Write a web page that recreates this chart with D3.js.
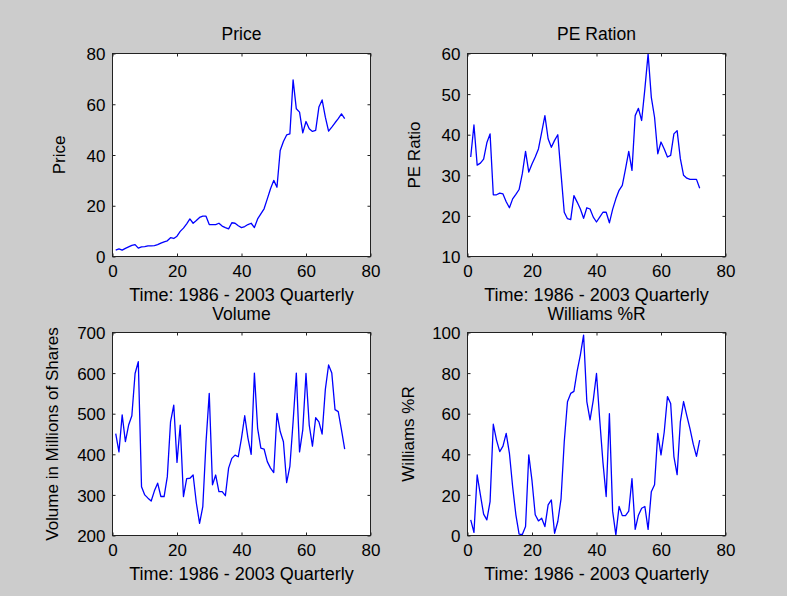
<!DOCTYPE html>
<html>
<head>
<meta charset="utf-8">
<script src="https://cdn.jsdelivr.net/npm/d3@7"></script>
<style>
  html, body { margin: 0; padding: 0; background: #cccccc; }
  svg { display: block; font-family: "Liberation Sans", Arial, Helvetica, sans-serif; }
  .tick text { font-size: 17px; fill: #000; }
  .tick line { stroke: #222; }
</style>
</head>
<body>
<svg id="chart" width="787" height="596"></svg>
<script>
// Quarterly index 1986 - 2003
const quarters = d3.range(1, 73);

const price = [2.5, 3.0, 2.5, 3.2, 3.8, 4.4, 4.7, 3.3, 3.8, 3.9, 4.2, 4.2, 4.3, 4.7, 5.3, 5.8, 6.2, 7.4,
  7.1, 8.0, 9.9, 11.2, 12.9, 14.8, 13.1, 14.2, 15.4, 15.9, 15.9, 12.6, 12.6, 12.6, 13.1, 12.0, 11.4, 10.9,
  13.3, 13.1, 12.1, 11.4, 11.8, 12.6, 13.1, 11.4, 14.8, 16.8, 18.8, 22.7, 26.7, 30.0, 27.3, 41.8, 45.3, 47.9,
  48.3, 69.6, 58.2, 56.9, 48.7, 53.2, 50.3, 49.3, 49.7, 58.9, 61.7, 54.9, 49.4, 51.0, 52.7, 54.3, 56.2, 54.3];

const peRatio = [34.5, 42.4, 32.5, 33.0, 34.0, 38.0, 40.2, 25.2, 25.2, 25.6, 25.4, 23.5, 22.0, 24.2, 25.3, 26.5,
  30.4, 35.9, 30.8, 32.8, 34.5, 36.5, 40.6, 44.7, 39.0, 36.9, 38.6, 40.0, 30.4, 20.9, 19.3, 19.1, 25.0, 23.4,
  21.7, 19.4, 22.0, 21.7, 19.7, 18.5, 19.7, 20.9, 20.9, 18.3, 21.6, 24.2, 26.3, 27.5, 31.6, 35.9, 31.2, 44.7,
  46.5, 43.5, 51.3, 59.9, 49.2, 44.3, 35.3, 38.2, 36.5, 34.5, 34.9, 40.2, 41.0, 34.1, 30.0, 29.3, 29.0, 29.0,
  29.0, 26.8];

const volume = [451, 406, 497, 431, 472, 495, 599, 628, 320, 300, 292, 285, 310, 329, 296, 296, 345, 480, 521,
  380, 472, 296, 340, 341, 349, 280, 230, 271, 430, 550, 325, 349, 308, 308, 298, 366, 390, 398, 394, 440, 495,
  440, 400, 600, 464, 415, 413, 382, 366, 355, 501, 456, 431, 330, 370, 480, 600, 406, 460, 599, 472, 420, 490,
  480, 450, 560, 620, 600, 510, 505, 460, 413];

const williamsR = [7.7, 1.5, 29.8, 20, 10.5, 7.7, 16.7, 54.8, 47, 41.3, 44, 50.3, 40.5, 24, 10.2, 0.7, 0.5, 4.4,
  39.7, 27, 10.2, 7.2, 8.5, 4.4, 15.1, 17.5, 1.1, 6.9, 18, 46.2, 65.9, 70, 71, 81, 89, 98.7, 66, 57, 66.7, 79.8,
  57, 36, 19.2, 60, 12, 0.3, 14.3, 9.8, 9.8, 12, 28, 3, 10, 13.4, 14.3, 3, 21.6, 25, 50.3, 39.7, 51, 68.4, 65,
  38.9, 30, 56, 66, 59, 52.5, 45, 39, 47];

const titles = ["Price", "PE Ration", "Volume", "Williams %R"];
const yLabels = ["Price", "PE Ratio", "Volume in Millions of Shares", "Williams %R"];
const xLabel = "Time: 1986 - 2003 Quarterly";
const xTicks = [0, 20, 40, 60, 80];
const yTicks = [
  [0, 20, 40, 60, 80],
  [10, 20, 30, 40, 50, 60],
  [200, 300, 400, 500, 600, 700],
  [0, 20, 40, 60, 80, 100]
];
const seriesList = [price, peRatio, volume, williamsR];

// subplot frames (left, top, width, height), y-label x position, title offset
const frames = [
  { x: 112.5, y: 53.5, w: 258, h: 203, ylabX: 65, titleDy: 14 },
  { x: 467.5, y: 53.5, w: 258, h: 203, ylabX: 420, titleDy: 14 },
  { x: 112.5, y: 332.5, w: 258, h: 203, ylabX: 58, titleDy: 13 },
  { x: 467.5, y: 332.5, w: 258, h: 203, ylabX: 414, titleDy: 13 }
];

const svg = d3.select("#chart");

seriesList.forEach((values, k) => {
  const f = frames[k];
  const ticks = yTicks[k];
  const x = d3.scaleLinear().domain([0, 80]).range([f.x, f.x + f.w]);
  const y = d3.scaleLinear().domain([ticks[0], ticks[ticks.length - 1]]).range([f.y + f.h, f.y]);

  const g = svg.append("g");

  g.append("rect")
    .attr("x", f.x).attr("y", f.y).attr("width", f.w).attr("height", f.h)
    .attr("fill", "#ffffff");

  const clipId = "clip" + k;
  g.append("clipPath").attr("id", clipId)
    .append("rect").attr("x", f.x).attr("y", f.y - 1).attr("width", f.w).attr("height", f.h + 2);

  const line = d3.line().x((d, i) => x(quarters[i])).y(d => y(d));
  g.append("path")
    .datum(values)
    .attr("clip-path", `url(#${clipId})`)
    .attr("fill", "none")
    .attr("stroke", "#0000ff")
    .attr("stroke-width", 1.3)
    .attr("stroke-linejoin", "round")
    .attr("d", line);

  // axes with inward ticks on all four sides
  const bottom = g.append("g").attr("transform", `translate(0,${f.y + f.h})`)
    .call(d3.axisBottom(x).tickValues(xTicks).tickSize(-3).tickPadding(8).tickFormat(d3.format("d")));
  const top = g.append("g").attr("transform", `translate(0,${f.y})`)
    .call(d3.axisTop(x).tickValues(xTicks).tickSize(-3).tickFormat(""));
  const left = g.append("g").attr("transform", `translate(${f.x},0)`)
    .call(d3.axisLeft(y).tickValues(ticks).tickSize(-3).tickPadding(7).tickFormat(d3.format("d")));
  const right = g.append("g").attr("transform", `translate(${f.x + f.w},0)`)
    .call(d3.axisRight(y).tickValues(ticks).tickSize(-3).tickFormat(""));
  [bottom, top, left, right].forEach(a => a.select(".domain").remove());
  bottom.selectAll(".tick text").attr("dy", "0.75em");
  left.selectAll(".tick text").attr("dy", "0.36em");

  g.append("rect")
    .attr("x", f.x).attr("y", f.y).attr("width", f.w).attr("height", f.h)
    .attr("fill", "none").attr("stroke", "#222").attr("stroke-width", 1);

  const cx = f.x + f.w / 2;
  g.append("text")
    .attr("x", cx).attr("y", f.y - f.titleDy)
    .attr("text-anchor", "middle").attr("font-size", 17.5).attr("fill", "#000")
    .text(titles[k]);

  g.append("text")
    .attr("x", cx).attr("y", f.y + f.h + 44)
    .attr("text-anchor", "middle").attr("font-size", 18).attr("fill", "#000")
    .text(xLabel);

  g.append("text")
    .attr("transform", `translate(${f.ylabX},${f.y + f.h / 2}) rotate(-90)`)
    .attr("text-anchor", "middle").attr("font-size", 17).attr("fill", "#000")
    .text(yLabels[k]);
});
</script>
</body>
</html>
